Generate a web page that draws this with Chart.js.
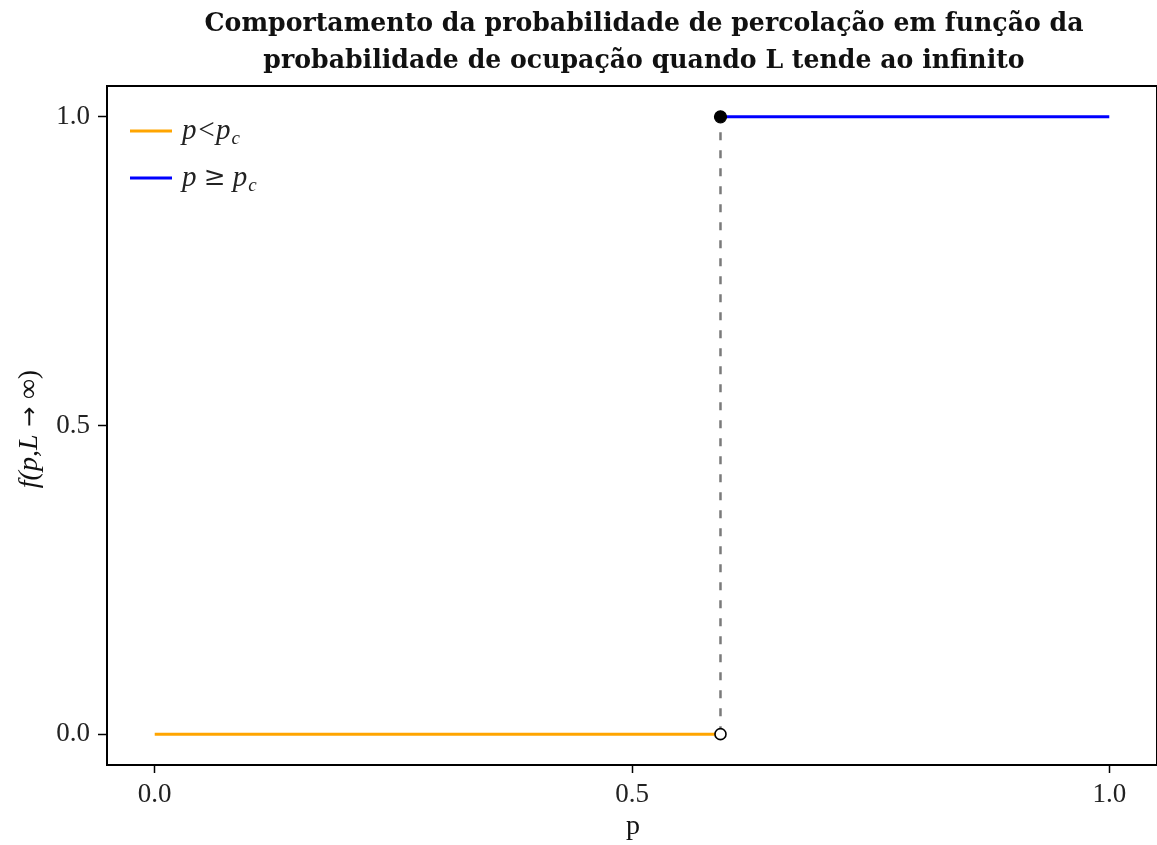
<!DOCTYPE html>
<html>
<head>
<meta charset="utf-8">
<script src="https://cdn.jsdelivr.net/npm/chart.js@4.4.1/dist/chart.umd.min.js"></script>
<style>
  html, body { margin: 0; padding: 0; background: #ffffff; overflow: hidden; }
  #wrap { width: 1157px; height: 845px; position: relative; }
  canvas { display: block; }
</style>
</head>
<body>
<div id="wrap"><canvas id="c" width="1157" height="845"></canvas></div>
<script>
// Critical occupation probability (square lattice site percolation)
const pc = 0.5927;

// Non-percolating branch: p < pc
const lowP = [0, pc];
const lowF = [0, 0];

// Percolating branch: p >= pc
const highP = [pc, 1];
const highF = [1, 1];

// Vertical jump at pc
const jumpP = [pc, pc];
const jumpF = [0, 1];

// End markers: closed (included) and open (excluded)
const closedP = [pc];
const closedF = [1];
const openP = [pc];
const openF = [0];

// Axis ticks
const xTicks = [0.0, 0.5, 1.0];
const yTicks = [0.0, 0.5, 1.0];

const titleLines = [
  'Comportamento da probabilidade de percolação em função da',
  'probabilidade de ocupação quando L tende ao infinito'
];

const toPoints = (xs, ys) => xs.map((x, i) => ({ x: x, y: ys[i] }));

const serif = '"Liberation Serif", "DejaVu Serif", serif';

// draws a sequence of [text, font, dy] pieces left to right
function drawPieces(ctx, pieces, x, y) {
  let cx = x;
  pieces.forEach(([t, f, dy]) => {
    ctx.font = f;
    ctx.fillText(t, cx, y + (dy || 0));
    cx += ctx.measureText(t).width;
  });
  return cx - x;
}
function measurePieces(ctx, pieces) {
  let w = 0;
  pieces.forEach(([t, f]) => { ctx.font = f; w += ctx.measureText(t).width; });
  return w;
}

const frameAndText = {
  id: 'frameAndText',
  afterDraw(chart) {
    const ctx = chart.ctx;
    const a = chart.chartArea;
    ctx.save();

    // top and right spines
    ctx.strokeStyle = '#000';
    ctx.lineWidth = 2;
    ctx.beginPath();
    ctx.moveTo(a.left - 1, a.top);
    ctx.lineTo(a.right, a.top);
    ctx.lineTo(a.right, a.bottom);
    ctx.stroke();

    // title
    ctx.fillStyle = '#111';
    ctx.textAlign = 'center';
    ctx.textBaseline = 'alphabetic';
    ctx.font = 'bold 25.2px "DejaVu Serif", serif';
    const cx = 644;
    ctx.fillText(titleLines[0], cx, 31);
    ctx.fillText(titleLines[1], cx, 68);

    // x axis title
    ctx.font = '28px ' + serif;
    ctx.fillText('p', (a.left + a.right) / 2 + 1, 834);

    // y axis title
    ctx.save();
    ctx.translate(37, 429);
    ctx.rotate(-Math.PI / 2);
    ctx.textAlign = 'left';
    const yl = [
      ['f(p,L', 'italic 28px ' + serif],
      [' → ', '24px "DejaVu Sans", sans-serif'],
      ['∞)', '28px ' + serif]
    ];
    const yw = measurePieces(ctx, yl);
    drawPieces(ctx, yl, -yw / 2, 0);
    ctx.restore();

    // legend
    const ds = chart.data.datasets;
    const entries = [
      { color: ds[0].borderColor, main: [['p<p', 'italic 29px ' + serif]], y: 131 },
      { color: ds[1].borderColor, main: [['p ', 'italic 29px ' + serif], ['≥', '26px "DejaVu Serif", serif'], [' p', 'italic 29px ' + serif]], y: 178 }
    ];
    entries.forEach(e => {
      ctx.strokeStyle = e.color;
      ctx.lineWidth = 3;
      ctx.beginPath();
      ctx.moveTo(130, e.y);
      ctx.lineTo(172, e.y);
      ctx.stroke();
      ctx.fillStyle = '#222';
      ctx.textAlign = 'left';
      ctx.textBaseline = 'middle';
      const w = drawPieces(ctx, e.main, 182, e.y);
      ctx.font = 'italic 19px ' + serif;
      ctx.fillText('c', 182 + w + 1, e.y + 8);
    });

    ctx.restore();
  }
};

new Chart(document.getElementById('c'), {
  type: 'scatter',
  data: {
    datasets: [
      {
        label: 'p<pc',
        data: toPoints(lowP, lowF),
        showLine: true,
        borderColor: '#FFA500',
        borderWidth: 3,
        pointRadius: 0,
        order: 3
      },
      {
        label: 'p≥pc',
        data: toPoints(highP, highF),
        showLine: true,
        borderColor: '#0000FF',
        borderWidth: 3,
        pointRadius: 0,
        order: 3
      },
      {
        label: 'jump',
        data: toPoints(jumpP, jumpF),
        showLine: true,
        borderColor: '#7a7a7a',
        borderWidth: 2.5,
        borderDash: [8, 10],
        pointRadius: 0,
        order: 4
      },
      {
        label: 'closed',
        data: toPoints(closedP, closedF),
        showLine: false,
        pointRadius: 6,
        pointBackgroundColor: '#000',
        pointBorderColor: '#000',
        pointBorderWidth: 1.2,
        order: 1
      },
      {
        label: 'open',
        data: toPoints(openP, openF),
        showLine: false,
        pointRadius: 5.5,
        pointBackgroundColor: '#fff',
        pointBorderColor: '#000',
        pointBorderWidth: 1.6,
        order: 1
      }
    ]
  },
  options: {
    responsive: false,
    animation: false,
    devicePixelRatio: 1,
    layout: { autoPadding: false, padding: { top: 86, right: 0, left: 0, bottom: 0 } },
    plugins: {
      legend: { display: false },
      title: { display: false },
      tooltip: { enabled: false }
    },
    scales: {
      x: {
        type: 'linear',
        min: -0.05,
        max: 1.05,
        afterBuildTicks: s => { s.ticks = xTicks.map(v => ({ value: v })); },
        afterFit: s => { s.height = 80; s.paddingLeft = 0; s.paddingRight = 0; },
        ticks: {
          callback: v => Number(v).toFixed(1),
          font: { family: serif, size: 27 },
          color: '#222',
          padding: 6,
          maxRotation: 0
        },
        grid: {
          drawOnChartArea: false,
          drawTicks: true,
          tickLength: 8,
          tickWidth: 1.5,
          tickColor: '#000'
        },
        border: { display: true, color: '#000', width: 2 }
      },
      y: {
        type: 'linear',
        min: -0.05,
        max: 1.05,
        afterBuildTicks: s => { s.ticks = yTicks.map(v => ({ value: v })); },
        afterFit: s => { s.width = 107; s.paddingTop = 0; s.paddingBottom = 0; },
        ticks: {
          callback: v => Number(v).toFixed(1),
          font: { family: serif, size: 27 },
          color: '#222',
          padding: 8
        },
        grid: {
          drawOnChartArea: false,
          drawTicks: true,
          tickLength: 9,
          tickWidth: 1.5,
          tickColor: '#000'
        },
        border: { display: true, color: '#000', width: 2 }
      }
    }
  },
  plugins: [frameAndText]
});
</script>
</body>
</html>
